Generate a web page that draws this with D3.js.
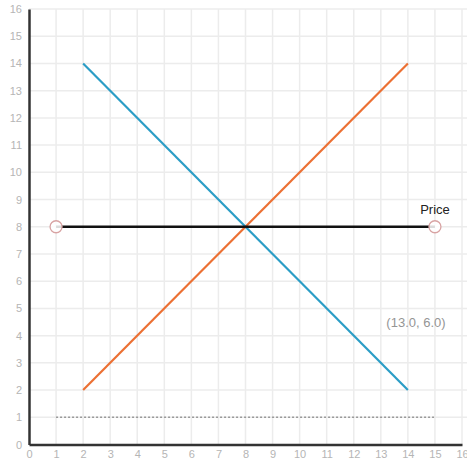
<!DOCTYPE html>
<html><head><meta charset="utf-8">
<script src="https://cdn.jsdelivr.net/npm/d3@7"></script>
<style>
html,body{margin:0;padding:0;background:#fff;}
svg{display:block;font-family:"Liberation Sans",Arial,Helvetica,sans-serif;}
</style></head>
<body><svg id="chart" width="467" height="464"></svg>
<script>
const xTicks = d3.range(0, 17);
const yTicks = d3.range(0, 17);
const demandX = [2, 14];
const demandY = [14, 2];
const supplyX = [2, 14];
const supplyY = [2, 14];
const priceX = [1, 15];
const priceY = [8, 8];
const floorX = [1, 15];
const floorY = [1, 1];
const priceLabel = "Price";
const coordLabel = "(13.0, 6.0)";
const coordPos = [14.3, 4.5];

const svg = d3.select("#chart");
const x = d3.scaleLinear().domain([0, 16]).range([29, 462]);
const y = d3.scaleLinear().domain([0, 16]).range([444.5, 9]);

// grid
svg.append("g").selectAll("line").data(xTicks.slice(1)).join("line")
  .attr("x1", d => x(d)).attr("x2", d => x(d)).attr("y1", y(0)).attr("y2", y(16))
  .attr("stroke", "#ececec").attr("stroke-width", 1.5);
svg.append("g").selectAll("line").data(yTicks.slice(1)).join("line")
  .attr("y1", d => y(d)).attr("y2", d => y(d)).attr("x1", x(0)).attr("x2", 467)
  .attr("stroke", "#ececec").attr("stroke-width", 1.5);

// axes
const xAxis = svg.append("g").attr("transform", `translate(0,${y(0)})`)
  .call(d3.axisBottom(x).tickValues(xTicks).tickSize(0).tickPadding(6).tickFormat(d3.format("d")));
const yAxis = svg.append("g").attr("transform", `translate(${x(0)},0)`)
  .call(d3.axisLeft(y).tickValues(yTicks).tickSize(0).tickPadding(7).tickFormat(d3.format("d")));
[xAxis, yAxis].forEach(g => {
  g.select(".domain").attr("stroke", "#333").attr("stroke-width", 2.5);
  g.selectAll("text").attr("fill", "#b5b5b5").attr("font-size", 11)
    .attr("font-family", "Liberation Sans, Arial, sans-serif");
});

const line = d3.line().x(d => x(d[0])).y(d => y(d[1]));

// floor dotted
svg.append("path").datum(floorX.map((v, i) => [v, floorY[i]])).attr("d", line)
  .attr("fill", "none").attr("stroke", "#999").attr("stroke-width", 1.5).attr("stroke-dasharray", "2,2");

// supply (orange)
svg.append("path").datum(supplyX.map((v, i) => [v, supplyY[i]])).attr("d", line)
  .attr("fill", "none").attr("stroke", "#ec7033").attr("stroke-width", 2.2);
// demand (blue)
svg.append("path").datum(demandX.map((v, i) => [v, demandY[i]])).attr("d", line)
  .attr("fill", "none").attr("stroke", "#2b9dc6").attr("stroke-width", 2.2);

// price line
const pricePts = priceX.map((v, i) => [v, priceY[i]]);
svg.append("path").datum(pricePts).attr("d", line)
  .attr("fill", "none").attr("stroke", "#111").attr("stroke-width", 2.5);
svg.append("g").selectAll("circle").data(pricePts).join("circle")
  .attr("cx", d => x(d[0])).attr("cy", d => y(d[1])).attr("r", 6)
  .attr("fill", "#fff").attr("fill-opacity", 0.85).attr("stroke", "#d8a3a3").attr("stroke-width", 1.3);

svg.append("text").attr("x", x(priceX[1])).attr("y", y(priceY[1]) - 13)
  .attr("text-anchor", "middle").attr("font-size", 13).attr("fill", "#222").text(priceLabel);

svg.append("text").attr("x", x(coordPos[0])).attr("y", y(coordPos[1]) + 4.5)
  .attr("text-anchor", "middle").attr("font-size", 13).attr("fill", "#959595").text(coordLabel);
</script></body></html>
